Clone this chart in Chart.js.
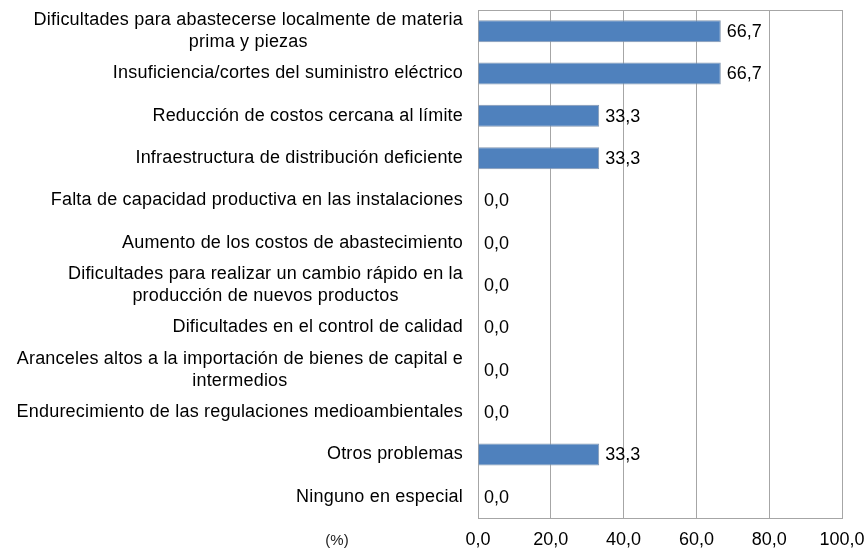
<!DOCTYPE html>
<html>
<head>
<meta charset="utf-8">
<script src="https://cdn.jsdelivr.net/npm/chart.js@4.4.1/dist/chart.umd.min.js"></script>
<style>
  html, body { margin: 0; padding: 0; background: #ffffff; }
  #wrap { width: 864px; height: 549px; }
</style>
</head>
<body>
<div id="wrap"><canvas id="c" width="864" height="549"></canvas></div>
<script>
// Problem categories (multi-line labels are given as arrays of lines)
const categories = [
  ["Dificultades para abastecerse localmente de materia", "prima y piezas"],
  "Insuficiencia/cortes del suministro eléctrico",
  "Reducción de costos cercana al límite",
  "Infraestructura de distribución deficiente",
  "Falta de capacidad productiva en las instalaciones",
  "Aumento de los costos de abastecimiento",
  ["Dificultades para realizar un cambio rápido en la", "producción de nuevos productos"],
  "Dificultades en el control de calidad",
  ["Aranceles altos a la importación de bienes de capital e", "intermedios"],
  "Endurecimiento de las regulaciones medioambientales",
  "Otros problemas",
  "Ninguno en especial"
];

// Share of respondents (%)
const values = [66.7, 66.7, 33.3, 33.3, 0, 0, 0, 0, 0, 0, 33.3, 0];

// X axis range and tick step
const xMin = 0;
const xMax = 100;
const xStep = 20;
const unitLabel = "(%)";

const FONT = "'Liberation Sans', Arial, sans-serif";
const fmt = v => v.toFixed(1).replace('.', ',');

// Category labels: right-aligned block, each wrapped line centred within it
const categoryLabels = {
  id: 'categoryLabels',
  afterDraw(chart) {
    const ctx = chart.ctx;
    const y = chart.scales.y;
    const right = chart.chartArea.left - 15;
    ctx.save();
    ctx.font = '18px ' + FONT;
    ctx.letterSpacing = '0.2px';
    ctx.fillStyle = '#000000';
    ctx.textBaseline = 'middle';
    ctx.textAlign = 'center';
    const lh = 21.6;
    categories.forEach((c, i) => {
      const lines = Array.isArray(c) ? c : [c];
      const w = Math.max(...lines.map(l => ctx.measureText(l).width));
      const cx = right - w / 2;
      const cy = y.getPixelForValue(i);
      const y0 = cy - (lines.length - 1) * lh / 2;
      lines.forEach((l, k) => ctx.fillText(l, cx, y0 + k * lh));
    });
    // unit caption under the category labels
    ctx.letterSpacing = '0px';
    ctx.font = '15px ' + FONT;
    ctx.fillStyle = '#222222';
    ctx.fillText(unitLabel, 337, chart.scales.x.bottom - 8);
    ctx.restore();
  }
};

// Value labels just past the end of each bar
const valueLabels = {
  id: 'valueLabels',
  afterDatasetsDraw(chart) {
    const ctx = chart.ctx;
    const meta = chart.getDatasetMeta(0);
    ctx.save();
    ctx.font = '18px ' + FONT;
    ctx.fillStyle = '#000000';
    ctx.textBaseline = 'middle';
    ctx.textAlign = 'left';
    meta.data.forEach((el, i) => {
      ctx.fillText(fmt(values[i]), el.x + 6, el.y + 1);
    });
    ctx.restore();
  }
};

// Frame line along the top of the plot area
const plotFrame = {
  id: 'plotFrame',
  beforeDatasetsDraw(chart) {
    const { ctx, chartArea: a } = chart;
    ctx.save();
    ctx.strokeStyle = '#a6a6a6';
    ctx.lineWidth = 1;
    ctx.beginPath();
    ctx.moveTo(a.left, Math.round(a.top) + 0.5);
    ctx.lineTo(a.right, Math.round(a.top) + 0.5);
    ctx.stroke();
    ctx.restore();
  }
};

new Chart(document.getElementById('c'), {
  type: 'bar',
  data: {
    labels: categories,
    datasets: [{
      data: values,
      backgroundColor: '#4f81bd',
      borderColor: '#8497b0',
      borderWidth: 1,
      borderSkipped: 'start',
      barPercentage: 0.52,
      categoryPercentage: 1.0
    }]
  },
  options: {
    indexAxis: 'y',
    responsive: false,
    animation: false,
    events: [],
    layout: { padding: { top: 10, left: 0, right: 22, bottom: 0 } },
    plugins: {
      legend: { display: false },
      tooltip: { enabled: false }
    },
    scales: {
      x: {
        min: xMin,
        max: xMax,
        ticks: {
          stepSize: xStep,
          padding: 11,
          color: '#000000',
          font: { family: FONT, size: 18 },
          callback: v => fmt(v)
        },
        grid: { color: '#a6a6a6', drawTicks: false, lineWidth: 1 },
        border: { display: true, color: '#a6a6a6' },
        afterFit(scale) {
          scale.height = 31;
          scale.paddingLeft = 0;
          scale.paddingRight = 0;
        }
      },
      y: {
        ticks: { display: false },
        grid: { display: false, drawTicks: false },
        border: { display: true, color: '#a6a6a6' },
        afterFit(scale) { scale.width = 478; }
      }
    }
  },
  plugins: [plotFrame, valueLabels, categoryLabels]
});
</script>
</body>
</html>
